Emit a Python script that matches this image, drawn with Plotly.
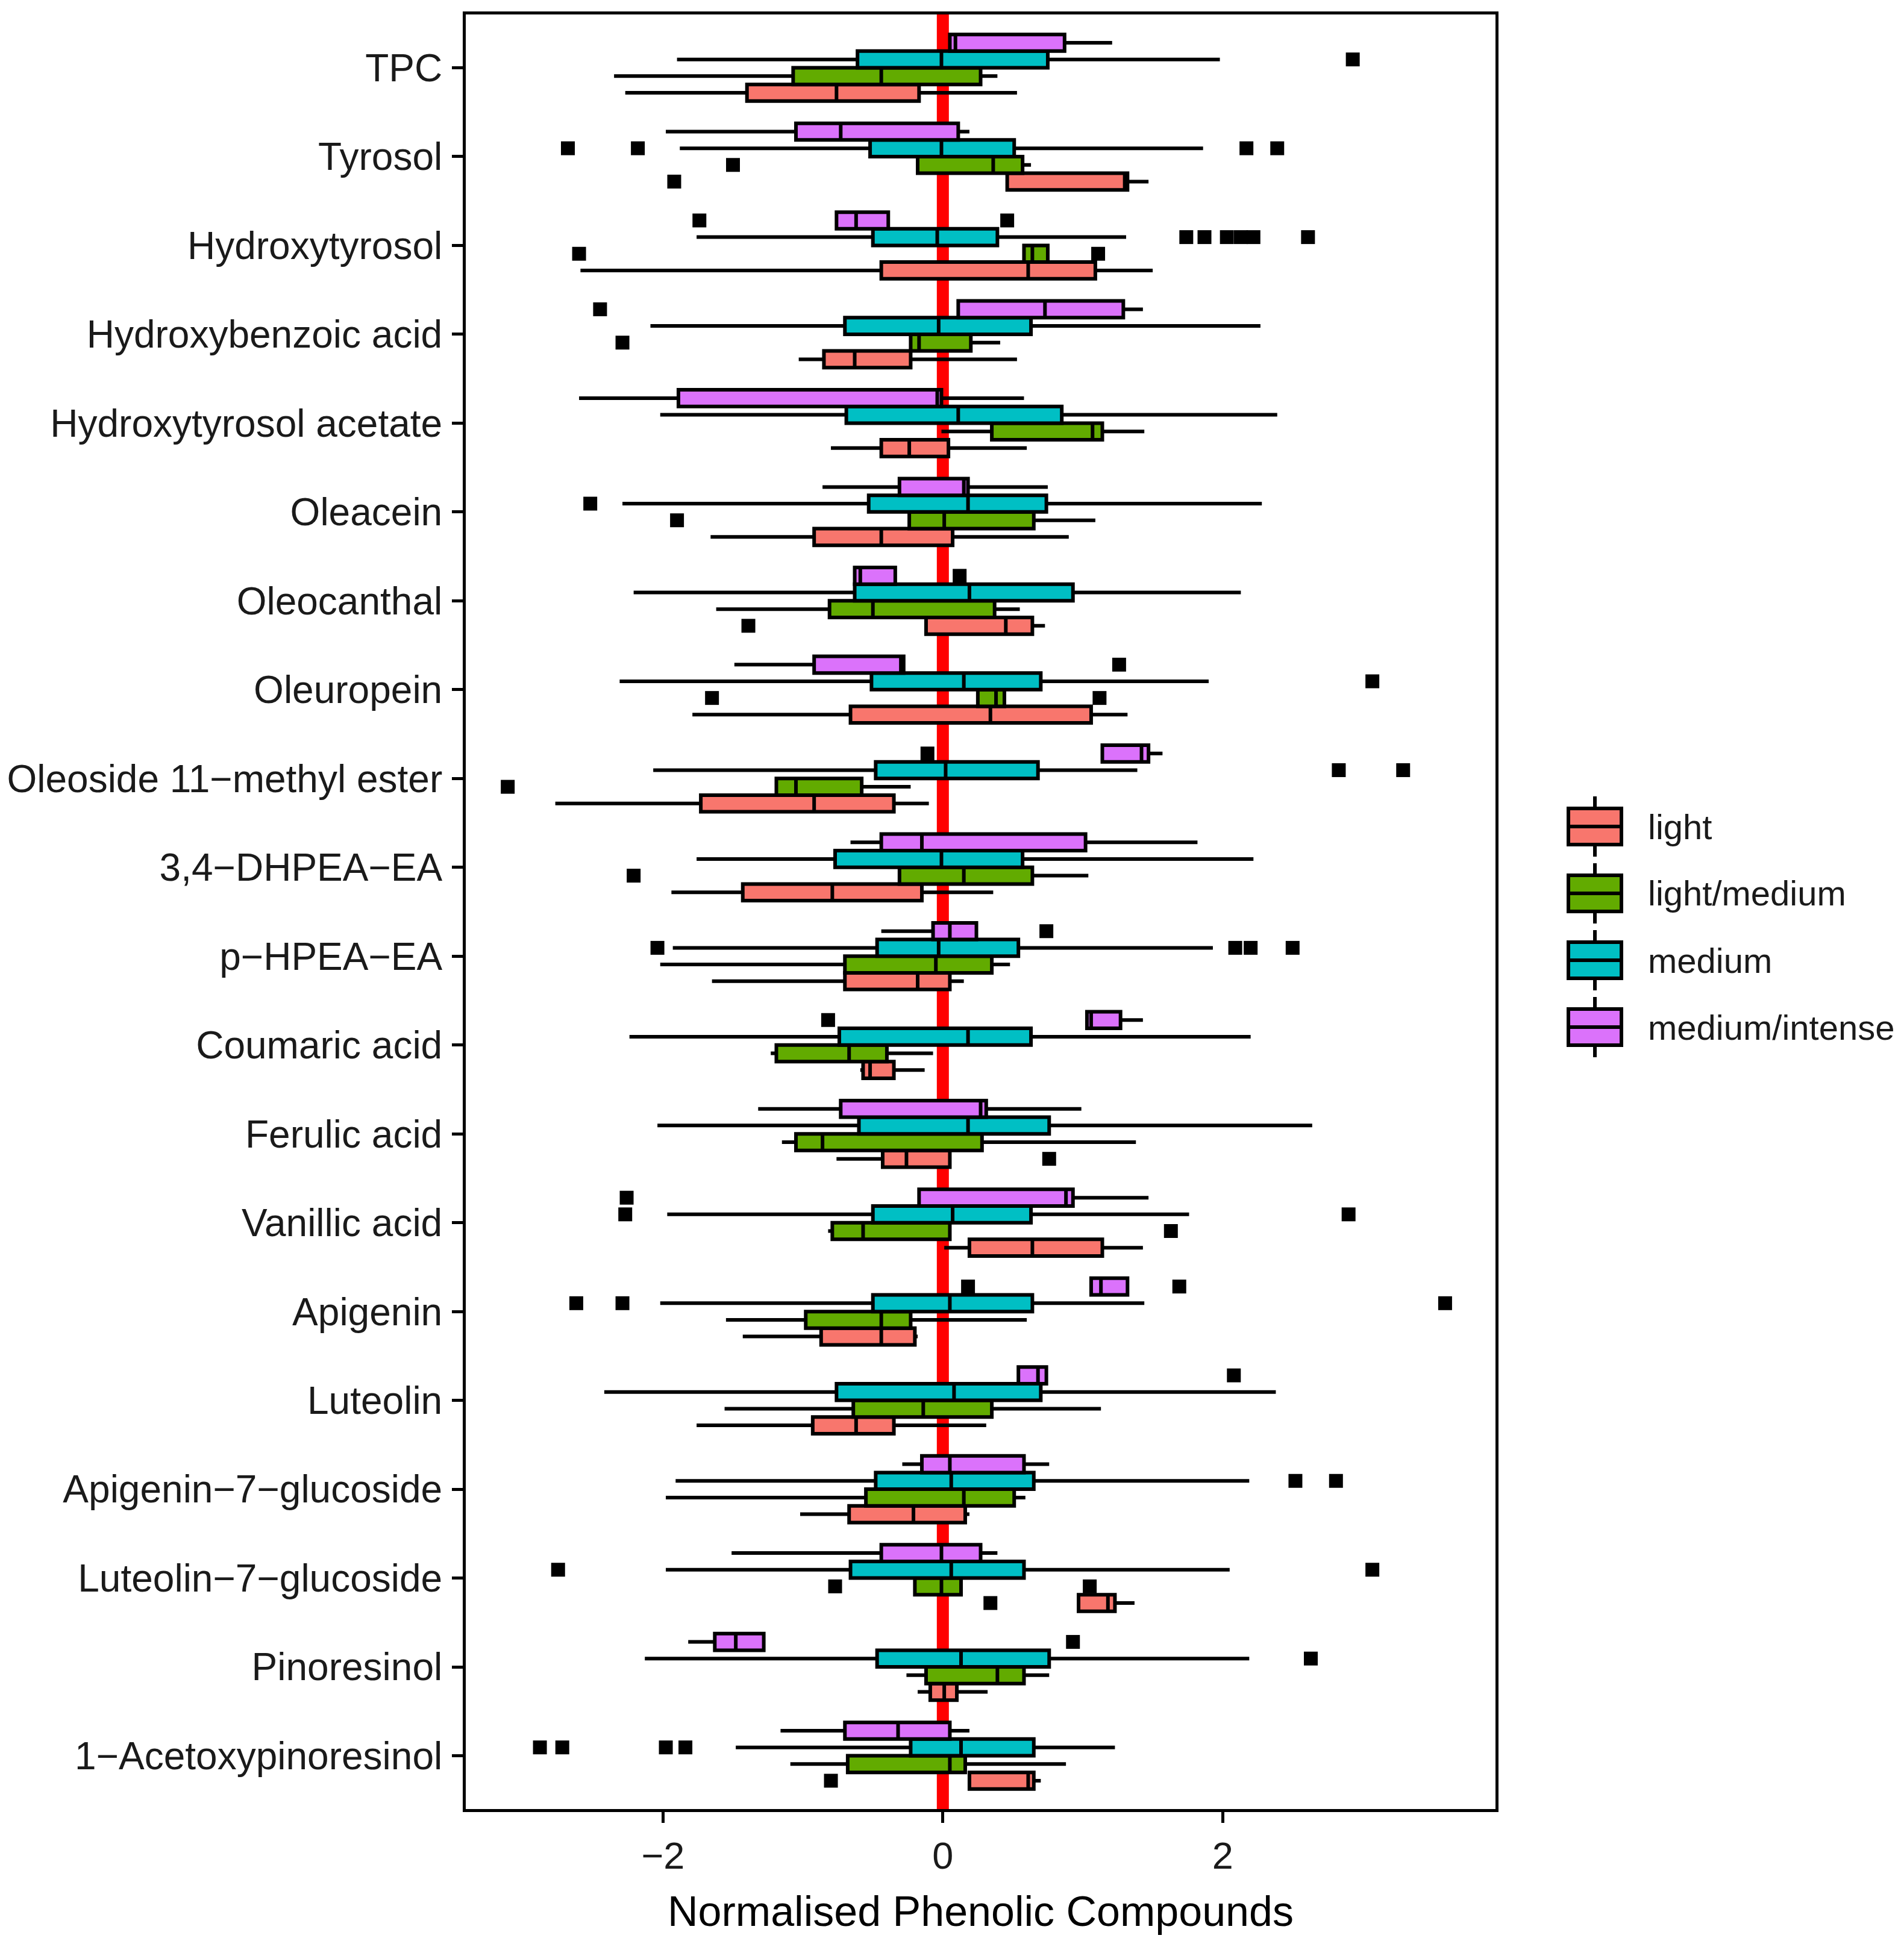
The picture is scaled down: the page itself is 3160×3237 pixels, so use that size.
import plotly.graph_objects as go

compounds = ["TPC", "Tyrosol", "Hydroxytyrosol", "Hydroxybenzoic acid",
             "Hydroxytyrosol acetate", "Oleacein", "Oleocanthal", "Oleuropein",
             "Oleoside 11−methyl ester", "3,4−DHPEA−EA", "p−HPEA−EA",
             "Coumaric acid", "Ferulic acid", "Vanillic acid", "Apigenin",
             "Luteolin", "Apigenin−7−glucoside", "Luteolin−7−glucoside",
             "Pinoresinol", "1−Acetoxypinoresinol"]

groups = ["light", "light/medium", "medium", "medium/intense"]
colors = ["#F8766D", "#62AB00", "#00BFC4", "#DB72FB"]

x_ticks = [-2, 0, 2]
x_range = [-3.41, 3.95]

# ---- light ----
light_q1 = [-1.40, 0.46, -0.44, -0.85, -0.44, -0.92, -0.12, -0.66, -1.73, -1.43,
            -0.70, -0.57, -0.43, 0.19, -0.87, -0.93, -0.67, 0.97, -0.09, 0.19]
light_med = [-0.76, 1.30, 0.61, -0.63, -0.24, -0.44, 0.45, 0.34, -0.92, -0.79,
             -0.18, -0.52, -0.26, 0.64, -0.44, -0.62, -0.21, 1.18, 0.01, 0.61]
light_q3 = [-0.17, 1.32, 1.09, -0.23, 0.04, 0.07, 0.64, 1.06, -0.35, -0.15,
            0.05, -0.35, 0.05, 1.14, -0.20, -0.35, 0.16, 1.23, 0.10, 0.65]
light_lo = [-2.27, 0.46, -2.59, -1.03, -0.80, -1.66, -0.12, -1.79, -2.77, -1.94,
            -1.65, -0.59, -0.76, 0.01, -1.43, -1.76, -1.02, 0.97, -0.18, 0.19]
light_hi = [0.53, 1.47, 1.50, 0.53, 0.60, 0.90, 0.73, 1.32, -0.10, 0.36,
            0.15, -0.13, 0.05, 1.43, -0.18, 0.31, 0.19, 1.37, 0.32, 0.70]
light_out = {"Tyrosol": [-1.92], "Oleocanthal": [-1.39], "Ferulic acid": [0.76],
             "Luteolin−7−glucoside": [0.34], "1−Acetoxypinoresinol": [-0.80]}

# ---- light/medium ----
lm_q1 = [-1.07, -0.18, 0.58, -0.23, 0.35, -0.24, -0.81, 0.25, -1.19, -0.31,
         -0.70, -1.19, -1.05, -0.79, -0.98, -0.64, -0.55, -0.20, -0.12, -0.68]
lm_med = [-0.44, 0.36, 0.64, -0.17, 1.07, 0.01, -0.50, 0.38, -1.05, 0.15,
          -0.05, -0.67, -0.86, -0.57, -0.44, -0.14, 0.15, -0.01, 0.39, 0.05]
lm_q3 = [0.27, 0.57, 0.75, 0.20, 1.14, 0.65, 0.37, 0.44, -0.58, 0.64,
         0.35, -0.40, 0.28, 0.05, -0.23, 0.35, 0.51, 0.13, 0.58, 0.16]
lm_lo = [-2.35, -0.18, 0.58, -0.23, -0.01, -0.24, -1.62, 0.25, -1.19, -0.31,
         -2.02, -1.23, -1.15, -0.82, -1.55, -1.56, -1.98, -0.20, -0.26, -1.09]
lm_hi = [0.39, 0.63, 0.75, 0.41, 1.44, 1.09, 0.55, 0.44, -0.23, 1.04,
         0.48, -0.07, 1.38, 0.05, 0.60, 1.13, 0.59, 0.13, 0.76, 0.88]
lm_out = {"Tyrosol": [-1.50], "Hydroxytyrosol": [-2.60, 1.11],
          "Hydroxybenzoic acid": [-2.29], "Oleacein": [-1.90],
          "Oleuropein": [-1.65, 1.12], "Oleoside 11−methyl ester": [-3.11],
          "3,4−DHPEA−EA": [-2.21], "Vanillic acid": [1.63],
          "Luteolin−7−glucoside": [-0.77, 1.05]}

# ---- medium ----
m_q1 = [-0.61, -0.52, -0.50, -0.70, -0.69, -0.53, -0.63, -0.51, -0.48, -0.77,
        -0.47, -0.74, -0.60, -0.50, -0.50, -0.76, -0.48, -0.66, -0.47, -0.23]
m_med = [-0.01, -0.01, -0.04, -0.03, 0.11, 0.18, 0.19, 0.15, 0.02, -0.01,
         -0.03, 0.18, 0.18, 0.07, 0.05, 0.08, 0.06, 0.06, 0.13, 0.13]
m_q3 = [0.75, 0.51, 0.39, 0.63, 0.85, 0.74, 0.93, 0.70, 0.68, 0.57,
        0.54, 0.63, 0.76, 0.63, 0.64, 0.70, 0.65, 0.58, 0.76, 0.65]
m_lo = [-1.90, -1.88, -1.76, -2.09, -2.02, -2.29, -2.21, -2.31, -2.07, -1.76,
        -1.93, -2.24, -2.04, -1.97, -2.02, -2.42, -1.91, -1.98, -2.13, -1.48]
m_hi = [1.98, 1.86, 1.31, 2.27, 2.39, 2.28, 2.13, 1.90, 1.39, 2.22,
        1.93, 2.20, 2.64, 1.76, 1.44, 2.38, 2.19, 2.05, 2.19, 1.23]
m_out = {"TPC": [2.93], "Tyrosol": [-2.68, -2.18, 2.17, 2.39],
         "Hydroxytyrosol": [1.74, 1.87, 2.03, 2.13, 2.22, 2.61],
         "Oleacein": [-2.52], "Oleuropein": [3.07],
         "Oleoside 11−methyl ester": [2.83, 3.29],
         "p−HPEA−EA": [-2.04, 2.09, 2.20, 2.50],
         "Vanillic acid": [-2.27, 2.90], "Apigenin": [-2.62, -2.29, 3.59],
         "Apigenin−7−glucoside": [2.52, 2.81],
         "Luteolin−7−glucoside": [-2.75, 3.07], "Pinoresinol": [2.63],
         "1−Acetoxypinoresinol": [-2.88, -2.72, -1.98, -1.84]}

# ---- medium/intense ----
mi_q1 = [0.05, -1.05, -0.76, 0.11, -1.89, -0.31, -0.63, -0.92, 1.14, -0.44,
         -0.07, 1.03, -0.73, -0.17, 1.06, 0.54, -0.15, -0.44, -1.63, -0.70]
mi_med = [0.09, -0.73, -0.62, 0.73, -0.04, 0.15, -0.59, -0.30, 1.42, -0.15,
          0.05, 1.06, 0.27, 0.88, 1.13, 0.68, 0.05, -0.01, -1.48, -0.32]
mi_q3 = [0.87, 0.11, -0.39, 1.29, -0.01, 0.18, -0.34, -0.28, 1.47, 1.02,
         0.24, 1.27, 0.31, 0.93, 1.32, 0.74, 0.58, 0.27, -1.28, 0.05]
mi_lo = [0.05, -1.98, -0.76, 0.11, -2.60, -0.86, -0.63, -1.49, 1.14, -0.66,
         -0.44, 1.03, -1.32, -0.17, 1.06, 0.54, -0.29, -1.51, -1.82, -1.16]
mi_hi = [1.21, 0.19, -0.39, 1.43, 0.58, 0.75, -0.34, -0.28, 1.57, 1.82,
         0.24, 1.43, 0.99, 1.47, 1.32, 0.74, 0.76, 0.39, -1.28, 0.19]
mi_out = {"Hydroxytyrosol": [-1.74, 0.46], "Hydroxybenzoic acid": [-2.45],
          "Oleocanthal": [0.12], "Oleuropein": [1.26],
          "Oleoside 11−methyl ester": [-0.11], "p−HPEA−EA": [0.74],
          "Coumaric acid": [-0.82], "Vanillic acid": [-2.26],
          "Apigenin": [0.18, 1.69], "Luteolin": [2.08], "Pinoresinol": [0.93]}

stats = {
    "light": (light_q1, light_med, light_q3, light_lo, light_hi, light_out),
    "light/medium": (lm_q1, lm_med, lm_q3, lm_lo, lm_hi, lm_out),
    "medium": (m_q1, m_med, m_q3, m_lo, m_hi, m_out),
    "medium/intense": (mi_q1, mi_med, mi_q3, mi_lo, mi_hi, mi_out),
}

# ---- geometry (ggplot-like dodge) ----
DODGE = 0.75
BW = DODGE / len(groups)
FONT = "Liberation Sans, Arial, sans-serif"
TXT = "#1a1a1a"
PAGE = 8  # default body margin of the html page
W, H = 3160 - PAGE, 3237 - PAGE
ML, MT = 773 - PAGE, 24 - PAGE
PW, PH = 2482 - 773, 3003 - 24
MR, MB = W - ML - PW, H - MT - PH
LW = 6

fig = go.Figure()

for k, g in enumerate(groups):
    q1, med, q3, lo, hi, outs = stats[g]
    off = -(k - (len(groups) - 1) / 2) * BW
    pos = [i + off for i in range(len(compounds))]
    fig.add_trace(go.Box(
        y=pos, q1=q1, median=med, q3=q3, lowerfence=lo, upperfence=hi,
        orientation="h", width=BW, fillcolor=colors[k],
        line=dict(color="black", width=LW), whiskerwidth=0,
        boxpoints=False, name=g, showlegend=False))
    ox, oy = [], []
    for name, vals in outs.items():
        for v in vals:
            ox.append(v)
            oy.append(compounds.index(name) + off)
    fig.add_trace(go.Scatter(
        x=ox, y=oy, mode="markers", showlegend=False, name=g,
        marker=dict(symbol="square", size=23, color="black", line=dict(width=0))))

fig.add_vline(x=0, line=dict(color="#FF0000", width=20), layer="below")

# ---- legend drawn as keys (ggplot-style vertical boxplot glyphs) ----
def px2paper(x, y):
    # x, y given in page pixels
    return (x - PAGE - ML) / PW, 1 - (y - PAGE - MT) / PH

key_cx, key_cy0, key_dy = 2647, 1372, 111
key_hw, key_hh, key_wh = 44, 30, 50
shapes = []
annotations = []
for k, g in enumerate(groups):
    cy = key_cy0 + k * key_dy
    x0, y0 = px2paper(key_cx - key_hw, cy - key_hh)
    x1, y1 = px2paper(key_cx + key_hw, cy + key_hh)
    xc, _ = px2paper(key_cx, cy)
    _, yt = px2paper(key_cx, cy - key_wh)
    _, yb = px2paper(key_cx, cy + key_wh)
    _, ym = px2paper(key_cx, cy)
    shapes.append(dict(type="line", xref="paper", yref="paper", x0=xc, x1=xc,
                       y0=yt, y1=yb, line=dict(color="black", width=LW)))
    shapes.append(dict(type="rect", xref="paper", yref="paper", x0=x0, x1=x1,
                       y0=y0, y1=y1, fillcolor=colors[k],
                       line=dict(color="black", width=LW)))
    shapes.append(dict(type="line", xref="paper", yref="paper", x0=x0, x1=x1,
                       y0=ym, y1=ym, line=dict(color="black", width=LW)))
    lx, ly = px2paper(2733, cy)
    annotations.append(dict(text=g, xref="paper", yref="paper", x=lx, y=ly,
                            xanchor="left", yanchor="middle", showarrow=False,
                            font=dict(family=FONT, size=58, color=TXT)))

fig.update_layout(
    width=W, height=H,
    margin=dict(l=ML, r=MR, t=MT, b=MB, autoexpand=False),
    plot_bgcolor="white", paper_bgcolor="white",
    showlegend=False,
    shapes=list(fig.layout.shapes) + shapes,
    annotations=annotations,
    font=dict(family=FONT, color=TXT),
)
fig.update_xaxes(
    range=x_range, tickvals=x_ticks,
    showgrid=False, zeroline=False,
    showline=True, linecolor="black", linewidth=5, mirror=True,
    ticks="outside", ticklen=18, tickwidth=5, tickcolor="black",
    tickfont=dict(family=FONT, size=63, color=TXT),
    title=dict(text="Normalised Phenolic Compounds", standoff=36,
               font=dict(family=FONT, size=70, color="black")),
)
fig.update_yaxes(
    range=[len(compounds) - 1 + 0.6, -0.6],
    tickvals=list(range(len(compounds))), ticktext=compounds,
    showgrid=False, zeroline=False,
    showline=True, linecolor="black", linewidth=5, mirror=True,
    ticks="outside", ticklen=18, tickwidth=5, tickcolor="black",
    tickfont=dict(family=FONT, size=64, color=TXT),
    ticklabelstandoff=3,
)

fig.write_html("out.html")
